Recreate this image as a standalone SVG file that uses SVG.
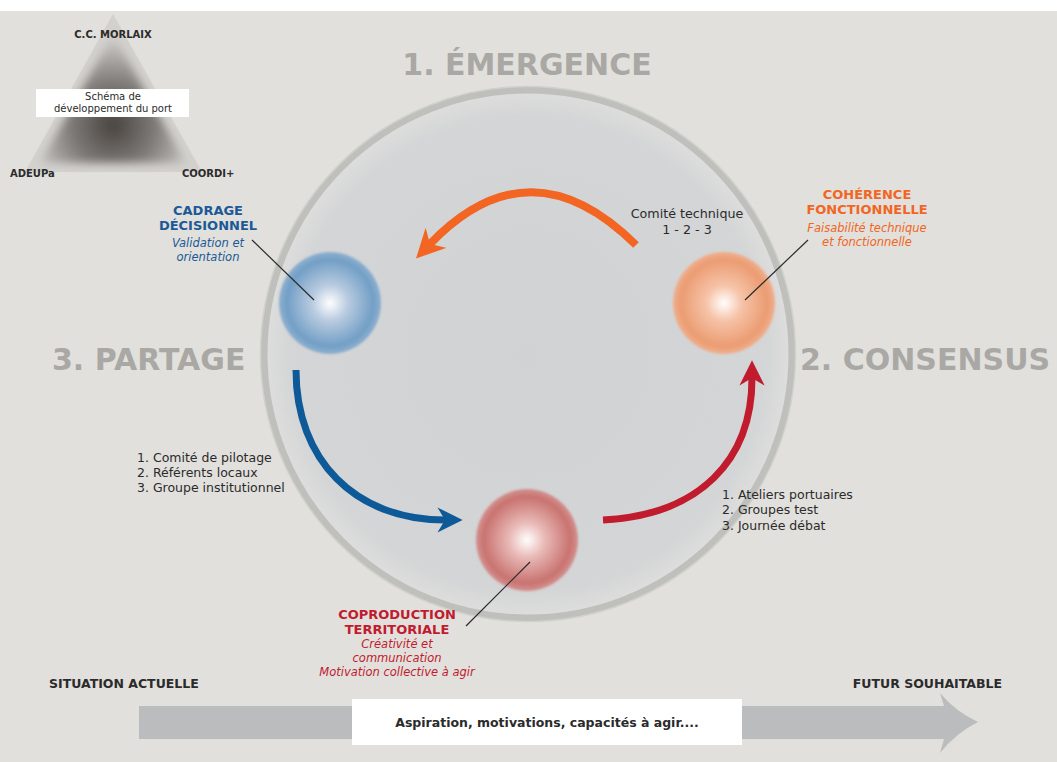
<svg xmlns="http://www.w3.org/2000/svg" width="1057" height="762" viewBox="0 0 1057 762">
<style>
  text { font-family: "DejaVu Sans", "Liberation Sans", sans-serif; }
  .phase { font-size: 30px; font-weight: bold; fill: #a9a8a4; }
  .list { font-size: 12.5px; fill: #2b2b2b; }
  .title { font-size: 13px; font-weight: bold; text-anchor: middle; }
  .sub { font-size: 11.5px; font-style: italic; text-anchor: middle; }
  .blue { fill: #1b5a96; }
  .orange { fill: #f26522; }
  .red { fill: #c11b2e; }
  .tri { font-size: 10px; font-weight: bold; fill: #2b2b2b; }
  .bottom { font-size: 12.5px; font-weight: bold; fill: #2b2b2b; }
  .leader { stroke: #2b2b2b; stroke-width: 1.2; fill: none; }
</style>
<defs>
  <radialGradient id="gBlue" cx="0.5" cy="0.5" r="0.5">
    <stop offset="0" stop-color="#ffffff"/>
    <stop offset="0.35" stop-color="#b9cbe0"/>
    <stop offset="0.85" stop-color="#729fc6"/>
    <stop offset="1" stop-color="#8fb0cf"/>
  </radialGradient>
  <radialGradient id="gOrange" cx="0.5" cy="0.5" r="0.5">
    <stop offset="0" stop-color="#ffffff"/>
    <stop offset="0.35" stop-color="#f6c3a8"/>
    <stop offset="0.85" stop-color="#eb9c72"/>
    <stop offset="1" stop-color="#efb08e"/>
  </radialGradient>
  <radialGradient id="gRed" cx="0.5" cy="0.5" r="0.5">
    <stop offset="0" stop-color="#ffffff"/>
    <stop offset="0.35" stop-color="#e8b9b6"/>
    <stop offset="0.85" stop-color="#c97370"/>
    <stop offset="1" stop-color="#d29290"/>
  </radialGradient>
  <radialGradient id="gCircle" cx="0.5" cy="0.5" r="0.5">
    <stop offset="0" stop-color="#d1d2d4"/>
    <stop offset="0.9" stop-color="#d4d5d6"/>
    <stop offset="1" stop-color="#dededd"/>
  </radialGradient>
  <radialGradient id="gTri" cx="113" cy="125" r="85" gradientUnits="userSpaceOnUse">
    <stop offset="0" stop-color="#48433f"/>
    <stop offset="0.5" stop-color="#7f7b78"/>
    <stop offset="1" stop-color="#cbc9c5"/>
  </radialGradient>
  <filter id="soft" x="-20%" y="-20%" width="140%" height="140%">
    <feGaussianBlur stdDeviation="4"/>
  </filter>
  <filter id="softer" x="-20%" y="-20%" width="140%" height="140%">
    <feGaussianBlur stdDeviation="1.2"/>
  </filter>
  <marker id="aOrange" viewBox="0 0 10 10" refX="3" refY="5" markerWidth="3.6" markerHeight="3.6" orient="auto" markerUnits="strokeWidth">
    <path d="M0,0 L10,5 L0,10 L3,5 Z" fill="#f26522"/>
  </marker>
  <marker id="aBlue" viewBox="0 0 10 10" refX="3" refY="5" markerWidth="3.6" markerHeight="3.6" orient="auto" markerUnits="strokeWidth">
    <path d="M0,0 L10,5 L0,10 L3,5 Z" fill="#0e5a99"/>
  </marker>
  <marker id="aRed" viewBox="0 0 10 10" refX="3" refY="5" markerWidth="3.6" markerHeight="3.6" orient="auto" markerUnits="strokeWidth">
    <path d="M0,0 L10,5 L0,10 L3,5 Z" fill="#c11b2e"/>
  </marker>
</defs>

<rect x="0" y="0" width="1057" height="762" fill="#ffffff"/>
<rect x="0" y="11" width="1057" height="751" fill="#e1e0dc"/>

<!-- triangle -->
<g id="triangle">
  <polygon points="113,14 25,172 202,172" fill="#d3d1cd"/>
  <polygon points="113,34 40,163 186,163" fill="url(#gTri)" filter="url(#soft)"/>
  <text class="tri" x="113" y="38" text-anchor="middle">C.C. MORLAIX</text>
  <rect x="36" y="89" width="153" height="28" fill="#ffffff"/>
  <text x="113" y="100" font-size="10" fill="#2b2b2b" text-anchor="middle">Schéma de</text>
  <text x="113" y="112" font-size="10" fill="#2b2b2b" text-anchor="middle">développement du port</text>
  <text class="tri" x="10" y="177">ADEUPa</text>
  <text class="tri" x="182" y="177">COORDI+</text>
</g>

<!-- big circle -->
<g id="cycle">
  <circle cx="528" cy="354" r="264" fill="url(#gCircle)" stroke="#bfbfbc" stroke-width="7"/>
  <circle cx="528" cy="354" r="267.5" fill="none" stroke="#d0d0cd" stroke-width="1.5"/>
</g>

<!-- phase labels -->
<text class="phase" x="527" y="75" text-anchor="middle">1. ÉMERGENCE</text>
<text class="phase" x="52" y="370">3. PARTAGE</text>
<text class="phase" x="800" y="370">2. CONSENSUS</text>

<!-- nodes -->
<g id="cadrage">
  <circle cx="330" cy="303" r="51" fill="url(#gBlue)" filter="url(#softer)"/>
  <text class="title blue" x="208" y="215">CADRAGE</text>
  <text class="title blue" x="208" y="230">DÉCISIONNEL</text>
  <text class="sub blue" x="208" y="247">Validation et</text>
  <text class="sub blue" x="208" y="261">orientation</text>
</g>

<g id="coherence">
  <circle cx="724" cy="303" r="51" fill="url(#gOrange)" filter="url(#softer)"/>
  <text class="title orange" x="867" y="199">COHÉRENCE</text>
  <text class="title orange" x="867" y="214">FONCTIONNELLE</text>
  <text class="sub orange" x="867" y="232">Faisabilité technique</text>
  <text class="sub orange" x="867" y="246">et fonctionnelle</text>
</g>

<g id="coproduction">
  <circle cx="527" cy="540" r="51" fill="url(#gRed)" filter="url(#softer)"/>
  <text class="title red" x="397" y="619">COPRODUCTION</text>
  <text class="title red" x="397" y="634">TERRITORIALE</text>
  <text class="sub red" x="397" y="648">Créativité et</text>
  <text class="sub red" x="397" y="662">communication</text>
  <text class="sub red" x="397" y="676">Motivation collective à agir</text>
</g>

<g id="comite-technique">
  <text x="687" y="218" font-size="12.7" fill="#2b2b2b" text-anchor="middle">Comité technique</text>
  <text x="687" y="234" font-size="12.7" fill="#2b2b2b" text-anchor="middle">1 - 2 - 3</text>
</g>

<g id="liste-partage">
  <text class="list" x="137" y="462">1. Comité de pilotage</text>
  <text class="list" x="137" y="477">2. Référents locaux</text>
  <text class="list" x="137" y="492">3. Groupe institutionnel</text>
</g>

<g id="liste-consensus">
  <text class="list" x="722" y="499">1. Ateliers portuaires</text>
  <text class="list" x="722" y="514">2. Groupes test</text>
  <text class="list" x="722" y="530">3. Journée débat</text>
</g>

<!-- connectors -->
<g id="connectors">
  <path d="M636,245 Q530,140 430,244" fill="none" stroke="#f26522" stroke-width="8" marker-end="url(#aOrange)"/>
  <path d="M296,370 C296,460 355,520 445,520" fill="none" stroke="#0e5a99" stroke-width="7" marker-end="url(#aBlue)"/>
  <path d="M603,520 C700,515 752,460 752,378" fill="none" stroke="#c11b2e" stroke-width="7" marker-end="url(#aRed)"/>
  <line class="leader" x1="252" y1="240" x2="314" y2="300"/>
  <line class="leader" x1="808" y1="240" x2="745" y2="300"/>
  <line class="leader" x1="466" y1="626" x2="530" y2="562"/>
</g>

<!-- bottom arrow -->
<g id="timeline">
  <path d="M139,706 H944 L940,693 Q956,712 978,722 Q956,733 940,753 L944,739 H139 Z" fill="#bbbcbe"/>
  <rect x="352" y="699" width="390" height="46" fill="#ffffff"/>
  <text class="bottom" x="547" y="727" text-anchor="middle">Aspiration, motivations, capacités à agir....</text>
  <text class="bottom" x="49" y="688">SITUATION ACTUELLE</text>
  <text class="bottom" x="1002" y="688" text-anchor="end">FUTUR SOUHAITABLE</text>
</g>
</svg>
